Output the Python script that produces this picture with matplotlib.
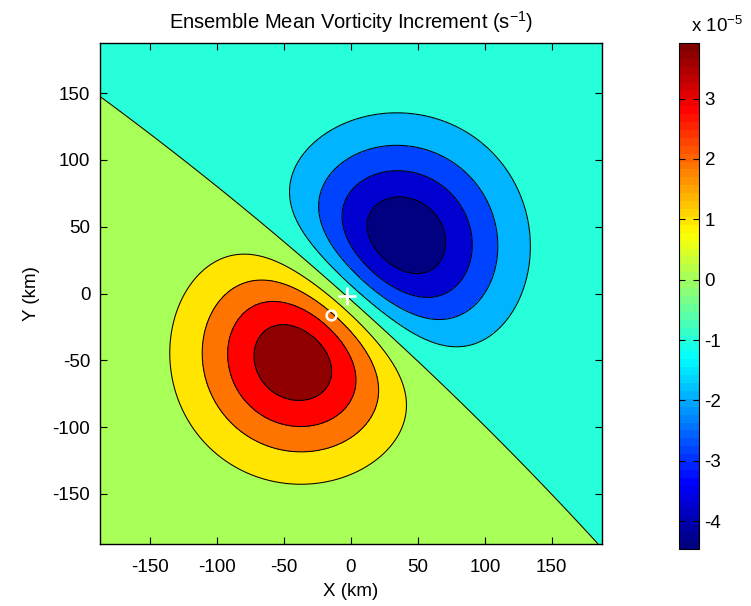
import numpy as np
import matplotlib
matplotlib.use('Agg')
import matplotlib.pyplot as plt
from matplotlib.colors import LinearSegmentedColormap, Normalize
from matplotlib.cm import ScalarMappable

plt.rcParams.update({'font.family': 'Liberation Sans', 'font.size': 13.5,
                     'mathtext.default': 'regular', 'axes.unicode_minus': False})

# vortex shift dipole: positive (new) and negative (old) gaussian, 1e-5 s^-1, km
vort_x = [-14.3, 12.3]
vort_y = [-18.9, 10.9]
vort_amp = [11.64, -11.64]
vort_s_along = [62.0, 62.0]     # width along the shift direction
vort_s_across = [55.0, 55.34]   # width across it
shift_angle = 48.3              # deg

cbar_min, cbar_max = -4.46, 3.92
n_lines = 9
level_step = 0.931
cbar_ticks = [-4, -3, -2, -1, 0, 1, 2, 3]
xy_ticks = [-150, -100, -50, 0, 50, 100, 150]
half_width = 187.5

obs_x, obs_y = -15, -16        # 'o'
ctr_x, ctr_y = -3, -2          # '+'

# MATLAB-style jet, 64 colours
jet = LinearSegmentedColormap('mjet', {
    'red':   [(0, 0, 0), (0.375, 0, 0), (0.625, 1, 1), (0.875, 1, 1), (1, 0.5, 0.5)],
    'green': [(0, 0, 0), (0.125, 0, 0), (0.375, 1, 1), (0.625, 1, 1), (0.875, 0, 0), (1, 0, 0)],
    'blue':  [(0, 0.5, 0.5), (0.125, 1, 1), (0.375, 1, 1), (0.625, 0, 0), (1, 0, 0)]}, N=64)
norm = Normalize(cbar_min, cbar_max)

# build the field
x = np.linspace(-half_width, half_width, 376)
X, Y = np.meshgrid(x, x)
th = np.deg2rad(shift_angle)
F = np.zeros_like(X)
for cx, cy, a, su, sv in zip(vort_x, vort_y, vort_amp, vort_s_along, vort_s_across):
    du = (X - cx) * np.cos(th) + (Y - cy) * np.sin(th)
    dv = -(X - cx) * np.sin(th) + (Y - cy) * np.cos(th)
    F += a * np.exp(-0.5 * ((du / su) ** 2 + (dv / sv) ** 2))

# contour levels; each band is coloured by its lower level (lowest band by the minimum)
levels = list(level_step * (np.arange(n_lines) - n_lines // 2))
fill_levels = [F.min() - 1.0] + levels + [F.max() + 1.0]
band_colors = [jet(norm(v)) for v in [cbar_min] + levels]

fig = plt.figure(figsize=(7.51, 6.06), dpi=100)
ax = fig.add_axes([100 / 751, 1 - 544 / 606, 502 / 751, 501 / 606])
ax.contourf(X, Y, F, levels=fill_levels, colors=band_colors)
ax.contour(X, Y, F, levels=levels, colors='k', linewidths=0.75, linestyles='solid')

ax.plot(obs_x, obs_y, 'o', mfc='none', mec='white', ms=7, mew=1.8)
ax.plot(ctr_x, ctr_y, '+', color='white', ms=13, mew=2)

ax.set_xlim(-half_width, half_width)
ax.set_ylim(-half_width, half_width)
ax.set_xticks(xy_ticks)
ax.set_yticks(xy_ticks)
ax.tick_params(direction='in', top=True, right=True, length=5, width=0.8, pad=7)
ax.tick_params(axis='x', pad=11)
for s in ax.spines.values():
    s.set_linewidth(1.0)
ax.set_xlabel('X (km)', labelpad=5)
ax.set_ylabel('Y (km)', labelpad=9)
ax.set_title('Ensemble Mean Vorticity Increment (s$^{-1}$)', fontsize=14.5, pad=10)

cax = fig.add_axes([679 / 751, 1 - 549 / 606, 20 / 751, 506 / 606])
cb = fig.colorbar(ScalarMappable(norm=norm, cmap=jet), cax=cax, ticks=cbar_ticks)
cax.tick_params(direction='in', left=True, right=True, length=4, width=0.8, pad=4)
cb.outline.set_linewidth(0.8)
fig.text(691 / 751, 1 - 32 / 606, 'x 10$^{-5}$', fontsize=13.5)

fig.savefig('out.png', dpi=100)
